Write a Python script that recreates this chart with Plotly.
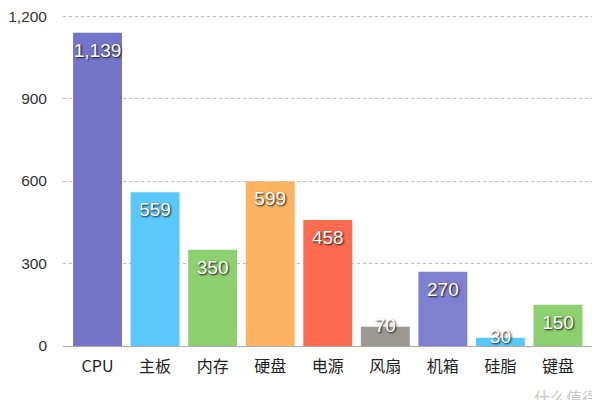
import plotly.graph_objects as go

categories = ["CPU", "主板", "内存", "硬盘", "电源", "风扇", "机箱", "硅脂", "键盘"]
values = [1139, 559, 350, 599, 458, 70, 270, 30, 150]
colors = ["#7474C8", "#5AC8FA", "#8DD06F", "#FDB462", "#FF6B50", "#9B9891", "#8080D0", "#5AC8FA", "#8DD06F"]
y_ticks = [0, 300, 600, 900, 1200]

labels = [f"{v:,}" for v in values]
label_pos = ["bottom center" if v > 100 else "middle center" for v in values]

fig = go.Figure()
fig.add_trace(go.Bar(
    x=categories, y=values, marker=dict(color=colors, line=dict(width=0)),
    hoverinfo="skip", showlegend=False,
))
fig.add_trace(go.Scatter(
    x=categories, y=values, mode="markers+text", text=labels, textposition=label_pos,
    marker=dict(size=14, color="rgba(0,0,0,0)"),
    textfont=dict(family="Liberation Sans, Arial, sans-serif", size=19, color="white",
                  shadow="1px 1px 2px #111"),
    hoverinfo="skip", showlegend=False,
))

fig.update_layout(
    width=600, height=400,
    margin=dict(l=55, r=8, t=7, b=62),
    paper_bgcolor="white", plot_bgcolor="white",
    bargap=0.15,
    font=dict(family="Liberation Sans, Noto Sans CJK SC, sans-serif", color="#333"),
    xaxis=dict(range=[-0.6, 8.73], showgrid=False, showline=False, ticks="",
               automargin=False, ticklabelstandoff=9,
               tickfont=dict(size=16, color="#222", family="Noto Sans CJK SC, Liberation Sans, sans-serif"),
               fixedrange=True),
    yaxis=dict(range=[0, 1204], tickvals=y_ticks, tickformat=",d", automargin=False,
               showgrid=True, gridcolor="#BBBBBB", griddash="dot", gridwidth=1,
               zeroline=True, zerolinecolor="#AAAAAA", zerolinewidth=1,
               showline=False, ticks="", ticklabelstandoff=15, ticklabeloverflow="allow",
               tickfont=dict(size=15.5, color="#333"), fixedrange=True),
    annotations=[dict(text="什么值得买", xref="paper", yref="paper", x=1.03, y=-0.155,
                      xanchor="right", yanchor="middle", showarrow=False,
                      font=dict(size=16, color="#C8C8C8", family="Noto Sans CJK SC"))],
)

fig.write_html("out.html")
